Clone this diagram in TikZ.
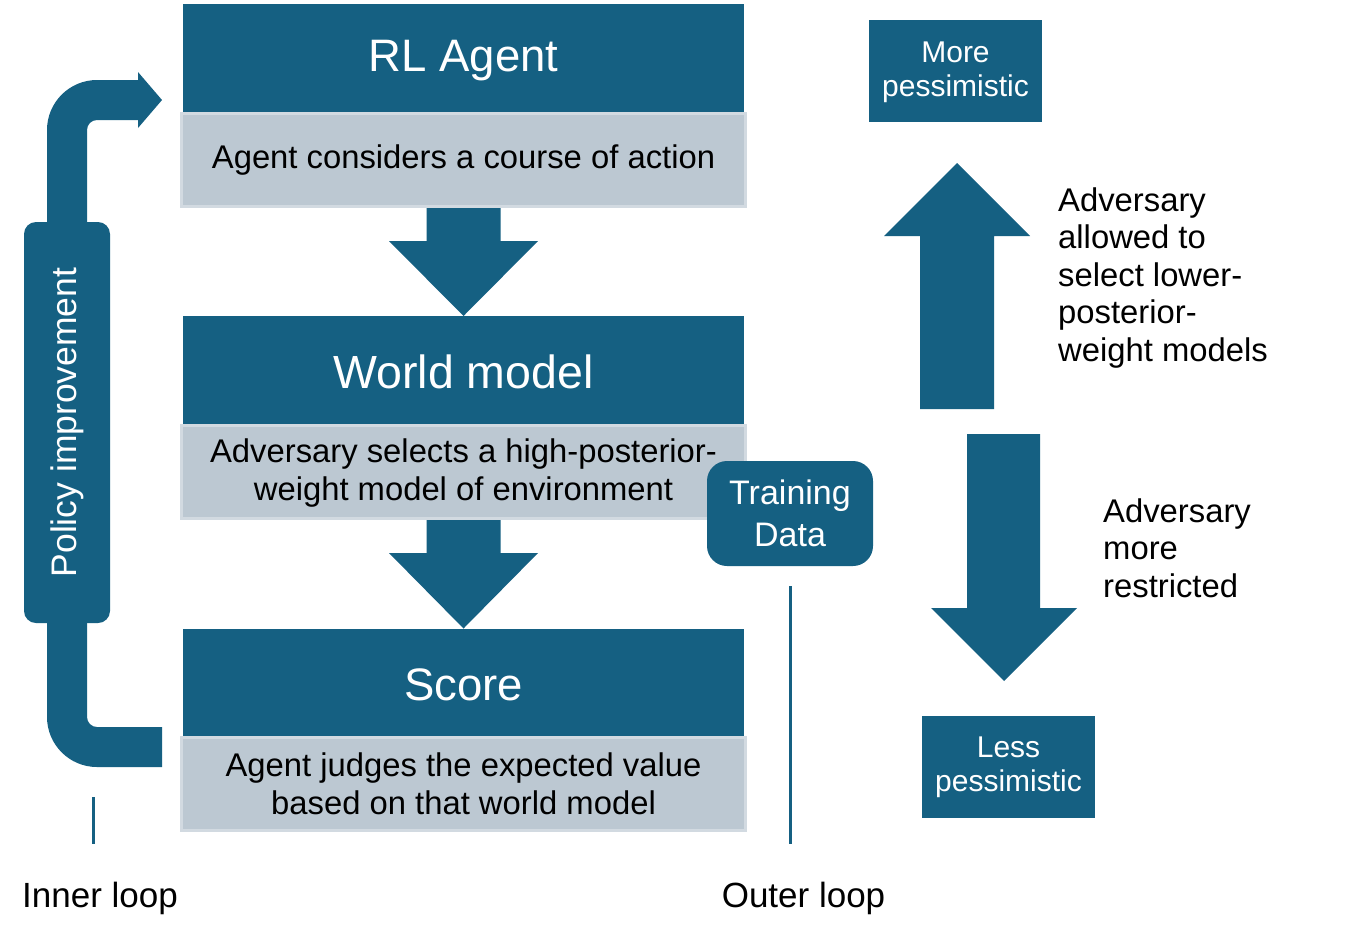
\documentclass[tikz,border=0pt]{standalone}
\usepackage{fontspec}
\setmainfont{Liberation Sans}
\usetikzlibrary{calc}
\definecolor{dk}{HTML}{156082}
\definecolor{lt}{HTML}{BCC8D2}
\definecolor{ltb}{HTML}{D2DAE1}
\begin{document}
\begin{tikzpicture}[x=1pt,y=-1pt,
  hdr/.style={fill=dk, text=white, inner sep=0pt, outer sep=0pt, minimum width=561pt, minimum height=108pt},
  hdrtxt/.style={text=white, inner sep=0pt, font=\fontsize{45.5}{54}\selectfont},
  lbox/.style={fill=lt, draw=ltb, line width=3pt, inner sep=0pt, minimum width=564pt, minimum height=93pt},
  boxtxt/.style={text=black, align=center, inner sep=0pt, font=\fontsize{32.8}{38}\selectfont},
  pbox/.style={fill=dk, inner sep=0pt, outer sep=0pt, minimum width=173pt, minimum height=102pt},
  pboxtxt/.style={align=center, text=white, inner sep=0pt, font=\fontsize{30}{34}\selectfont},
  lbl/.style={text=black, align=left, inner sep=0pt, font=\fontsize{32.8}{37.5}\selectfont},
  looplbl/.style={text=black, inner sep=0pt, font=\fontsize{35}{40}\selectfont},
  loopline/.style={draw=dk, line width=3pt}]
\fill[white] (0,0) rectangle (1348,940);
\useasboundingbox (0,0) rectangle (1348,940);

% left column
\node[hdr] (rl) at (463.5,58) {};
\node[hdrtxt] (rlt) at (463.5,60.5) {RL Agent};
\node[lbox] (l1) at (463.5,160) {};
\node[boxtxt] (l1t) at (463.5,160) {Agent considers a course of action};
\node[hdr] (wm) at (463.5,370) {};
\node[hdrtxt, font=\fontsize{46.5}{54}\selectfont] (wmt) at (463.5,372) {World model};
\node[lbox] (l2) at (463.5,472) {};
\node[boxtxt] (l2t) at (463.5,473) {Adversary selects a high-posterior-\\weight model of environment};
\node[hdr] (sc) at (463.5,682.5) {};
\node[hdrtxt] (sct) at (463.5,684.5) {Score};
\node[lbox] (l3) at (463.5,784) {};
\node[boxtxt] (l3t) at (463.5,784) {Agent judges the expected value\\based on that world model};

% block arrows between stages
\fill[dk] ($(l1.south)+(-37,0)$) -- ($(l1.south)+(37,0)$) -- ($(l1.south)+(37,33)$) -- ($(l1.south)+(74.5,33)$) -- (wm.north) -- ($(l1.south)+(-74.5,33)$) -- ($(l1.south)+(-37,33)$) -- cycle;
\fill[dk] ($(l2.south)+(-37,0)$) -- ($(l2.south)+(37,0)$) -- ($(l2.south)+(37,33)$) -- ($(l2.south)+(74.5,33)$) -- (sc.north) -- ($(l2.south)+(-74.5,33)$) -- ($(l2.south)+(-37,33)$) -- cycle;

% training data
\node[fill=dk, rounded corners=20pt, text=white, align=center, inner sep=0pt, minimum width=166pt, minimum height=105pt, font=\fontsize{34}{42}\selectfont] (td) at (790,513.5) {Training\\Data};

% policy improvement loop
\node[fill=dk, rounded corners=12pt, minimum width=86pt, minimum height=401pt, inner sep=0pt] (pol) at (67,422.5) {};
\node[text=white, rotate=90, inner sep=0pt, font=\fontsize{35.5}{40}\selectfont] (poltxt) at (pol.center) {Policy improvement};
\fill[dk] (47,223) -- (47,130) .. controls (47,102.4) and (69.4,80) .. (97,80) -- (138,80) -- (138,72) -- (162,100) -- (138,128) -- (138,120) -- (97,120) .. controls (91.5,120) and (87,124.5) .. (87,130) -- (87,223) -- cycle;
\fill[dk] (47,622) -- (47,717) .. controls (47,744.6) and (69.4,767) .. (97,767) -- (162,767) -- (162,727) -- (97,727) .. controls (91.5,727) and (87,722.5) .. (87,717) -- (87,622) -- cycle;

% loop markers
\coordinate (ia) at (93,797);
\coordinate (ib) at (93,844);
\draw[loopline] (ia) -- (ib);
\coordinate (oa) at (790,586);
\coordinate (ob) at (790,844);
\draw[loopline] (oa) -- (ob);
\node[looplbl] (inner) at (100,898) {Inner loop};
\node[looplbl] (outer) at (803.5,898) {Outer loop};

% right side
\node[pbox] (more) at (955.5,71) {};
\node[pboxtxt] (moret) at (955.5,72) {More\\pessimistic};
\node[pbox] (less) at (1008.5,766.5) {};
\node[pboxtxt] (lesst) at (1008.5,767.5) {Less\\pessimistic};
\fill[dk] (920,409) -- (920,236) -- (884,236) -- (957,163) -- (1030,236) -- (994,236) -- (994,409) -- cycle;
\fill[dk] (967,434) -- (967,608) -- (931,608) -- (1004,681) -- (1077,608) -- (1040,608) -- (1040,434) -- cycle;
\node[lbl, anchor=west] (t1) at (1058,278) {Adversary\\allowed to\\select lower-\\posterior-\\weight models};
\node[lbl, anchor=west] (t2) at (1103,548) {Adversary\\more\\restricted};
\end{tikzpicture}
\end{document}
